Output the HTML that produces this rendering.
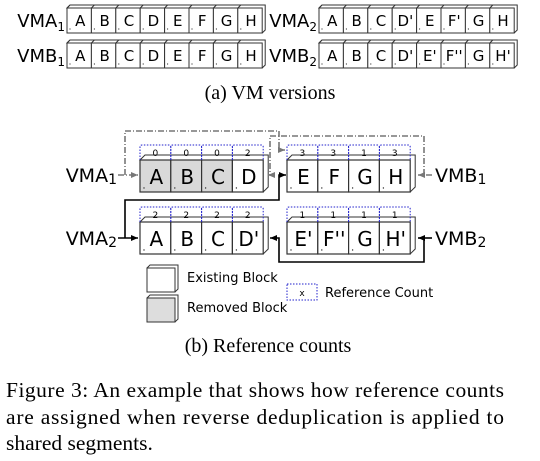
<!DOCTYPE html>
<html><head><meta charset="utf-8"><style>
body{margin:0;background:#fff}
svg{display:block}
.s{font-family:"DejaVu Sans","Liberation Sans",sans-serif}
.r{font-family:"Liberation Serif",serif}
</style></head><body>
<svg id="fig" width="540" height="461" viewBox="0 0 540 461" xmlns="http://www.w3.org/2000/svg">
<defs>
<marker id="ag" markerWidth="8" markerHeight="8" refX="7" refY="4" orient="auto" markerUnits="userSpaceOnUse"><path d="M0,1 L7,4 L0,7 z" fill="#777"/></marker>
<marker id="ab" markerWidth="8" markerHeight="8" refX="7" refY="4" orient="auto" markerUnits="userSpaceOnUse"><path d="M0,1 L7,4 L0,7 z" fill="#000"/></marker>
</defs>
<g id="topg"></g>
<text class="r" x="270" y="99" font-size="20" text-anchor="middle">(a) VM versions</text>
<g id="botg"></g>
<g fill="none" stroke-width="1.6">
<path d="M118,175 L138,175" stroke="#777" stroke-dasharray="6,2,1,2" marker-end="url(#ag)"/>
<path d="M125,175 L125,131 L279,131 L279,150 L285,150" stroke="#777" stroke-dasharray="6,2,1,2" marker-end="url(#ag)"/>
<path d="M432,175 L418,175" stroke="#777" stroke-dasharray="6,2,1,2" marker-end="url(#ag)"/>
<path d="M424,175 L424,136 L270,136 L270,175 L268,175" stroke="#777" stroke-dasharray="6,2,1,2" marker-end="url(#ag)"/>
<path d="M118,238 L138,238" stroke="#000" marker-end="url(#ab)"/>
<path d="M125,238 L125,200 L279,200 L279,175 L286,175" stroke="#000" marker-end="url(#ab)"/>
<path d="M432,238 L418,238" stroke="#000" marker-end="url(#ab)"/>
<path d="M424,238 L424,262 L279,262 L279,238 L270,238" stroke="#000" marker-end="url(#ab)"/>
</g>
<g>
<g>
<path d="M147,268 L150,265 L178,265 L178,289 L175,292 Z" fill="#fff" stroke="#333"/>
<rect x="147" y="268" width="28" height="24" fill="#fff" stroke="#333"/>
<text class="s" x="187" y="282" font-size="13">Existing Block</text>
</g>
<g>
<path d="M147,298 L150,295 L178,295 L178,319 L175,322 Z" fill="#fff" stroke="#333"/>
<rect x="147" y="298" width="28" height="24" fill="#ddd" stroke="#333"/>
<text class="s" x="187" y="312" font-size="13">Removed Block</text>
</g>
<g>
<rect x="287" y="284" width="30" height="16" fill="none" stroke="#22c" stroke-dasharray="1.5,1.5"/>
<text class="s" x="302" y="296" font-size="9" text-anchor="middle">x</text>
<text class="s" x="325" y="297" font-size="13">Reference Count</text>
</g>
</g>
<text class="r" x="268" y="352" font-size="20" text-anchor="middle">(b) Reference counts</text>
<g class="r" font-size="21.5">
<text x="6" y="397" textLength="498" lengthAdjust="spacing">Figure 3:  An example that shows how reference counts</text>
<text x="6" y="424" textLength="498" lengthAdjust="spacing">are assigned when reverse deduplication is applied to</text>
<text x="6" y="450">shared segments.</text>
</g>
</svg>
<script>
const NS="http://www.w3.org/2000/svg";
function mk(p,tag,a){const e=document.createElementNS(NS,tag);for(const k in a)e.setAttribute(k,a[k]);p.appendChild(e);return e;}
const rowsTop=[
 {label:"VMA",sub:"1",x:67,y:8,cells:["A","B","C","D","E","F","G","H"]},
 {label:"VMB",sub:"1",x:67,y:43,cells:["A","B","C","D","E","F","G","H"]},
 {label:"VMA",sub:"2",x:319,y:8,cells:["A","B","C","D'","E","F'","G","H"]},
 {label:"VMB",sub:"2",x:319,y:43,cells:["A","B","C","D'","E'","F''","G","H'"]}];
const topG=document.getElementById('topg');
rowsTop.forEach(r=>{
 const g=mk(topG,'g',{});
 
 
 const w=24.4,h=25,d=3,n=r.cells.length;
 mk(g,'path',{d:`M${r.x},${r.y} L${r.x+d},${r.y-d} L${r.x+n*w+d},${r.y-d} L${r.x+n*w+d},${r.y+h-d} L${r.x+n*w},${r.y+h} Z`,fill:'#fff',stroke:'#333','stroke-width':1});
 r.cells.forEach((c,i)=>{
  const x=r.x+i*w;
  mk(g,'line',{x1:x+d,y1:r.y-d,x2:x,y2:r.y,stroke:'#333'});
  mk(g,'rect',{x:x,y:r.y,width:w,height:h,fill:'#fff',stroke:'#333'});
  mk(g,'circle',{cx:x+3,cy:r.y+h-4,r:0.6,fill:'#333'});
  const t=mk(g,'text',{x:x+w/2+1,y:r.y+18,'font-size':15,'text-anchor':'middle',class:'s'});t.textContent=c;
 });
 const t=mk(g,'text',{x:r.x-2,y:r.y+19,'font-size':18,'text-anchor':'end',class:'s'});
 t.innerHTML=r.label+'<tspan font-size="12" dy="4">'+r.sub+'</tspan>';
});
const botG=document.getElementById('botg');
const groups=[
 {name:'vma1-blocks',x:140,y:160,cells:["A","B","C","D"],counts:["0","0","0","2"],removed:[1,1,1,0]},
 {name:'vmb1-blocks',x:287,y:160,cells:["E","F","G","H"],counts:["3","3","1","3"],removed:[0,0,0,0]},
 {name:'vma2-blocks',x:140,y:222,cells:["A","B","C","D'"],counts:["2","2","2","2"],removed:[0,0,0,0]},
 {name:'vmb2-blocks',x:287,y:222,cells:["E'","F''","G","H'"],counts:["1","1","1","1"],removed:[0,0,0,0]}];
groups.forEach(gr=>{
 const g=mk(botG,'g',{});
 
 
 const w=30.8,h=32,d=5,n=4;
 mk(g,'path',{d:`M${gr.x},${gr.y} L${gr.x+d},${gr.y-d} L${gr.x+n*w+d},${gr.y-d} L${gr.x+n*w+d},${gr.y+h-d} L${gr.x+n*w},${gr.y+h} Z`,fill:'#fff',stroke:'#333'});
 gr.cells.forEach((c,i)=>{
  const x=gr.x+i*w;
  mk(g,'rect',{x:x,y:gr.y,width:w,height:h,fill:gr.removed[i]?'#d9d9d9':'#fff',stroke:'#333','stroke-width':1.2});
  mk(g,'circle',{cx:x+4,cy:gr.y+h-4,r:0.7,fill:'#333'});
  const t=mk(g,'text',{x:x+w/2+1,y:gr.y+24,'font-size':20,'text-anchor':'middle',class:'s'});t.textContent=c;
  mk(g,'path',{d:`M${x},${gr.y} L${x},${gr.y-13} Q${x},${gr.y-15} ${x+2},${gr.y-15} L${x+w-2},${gr.y-15} Q${x+w},${gr.y-15} ${x+w},${gr.y-13} L${x+w},${gr.y}`,fill:'none',stroke:'#22c','stroke-dasharray':'1.5,1.5'});
  const k=mk(g,'text',{x:x+w/2,y:gr.y-4,'font-size':9,'text-anchor':'middle',class:'s'});k.textContent=gr.counts[i];
 });
});
const labs=[["VMA","1",117,182,'end'],["VMB","1",435,182,'start'],["VMA","2",117,245,'end'],["VMB","2",435,245,'start']];
labs.forEach(l=>{
 const t=mk(botG,'text',{x:l[2],y:l[3],'font-size':19,'text-anchor':l[4],class:'s'});
 
 
 t.innerHTML=l[0]+'<tspan font-size="14" dy="2">'+l[1]+'</tspan>';
});
</script>
</body></html>
